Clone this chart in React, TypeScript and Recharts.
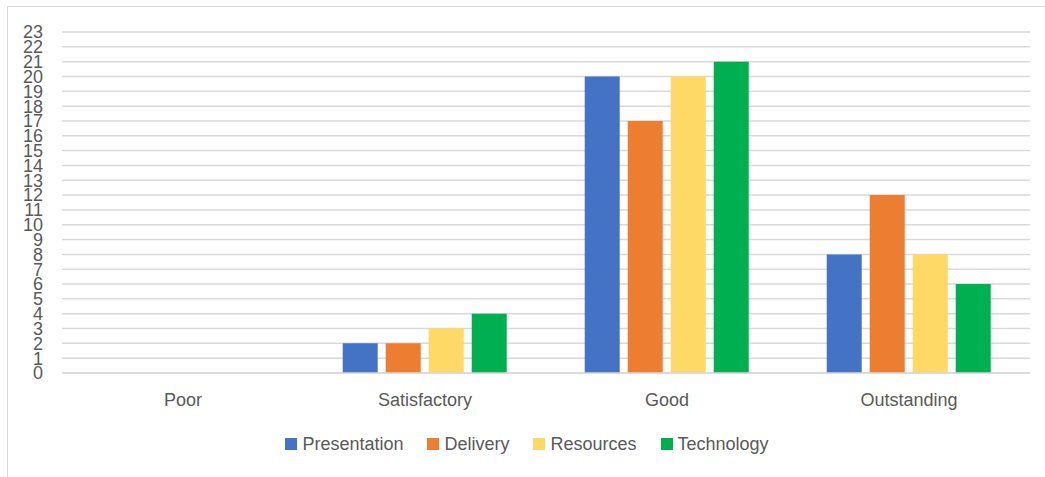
import { BarChart, Bar, XAxis, YAxis, CartesianGrid, Legend } from "recharts";

const categories = ["Poor", "Satisfactory", "Good", "Outstanding"];
const presentation = [0, 2, 20, 8];
const delivery = [0, 2, 17, 12];
const resources = [0, 3, 20, 8];
const technology = [0, 4, 21, 6];
const yTicks = Array.from({ length: 24 }, (_, i) => i);

const series = [
  { key: "Presentation", color: "#4472C4" },
  { key: "Delivery", color: "#ED7D31" },
  { key: "Resources", color: "#FFD966" },
  { key: "Technology", color: "#00B050" },
];

const data = categories.map((name, i) => ({
  name,
  Presentation: presentation[i],
  Delivery: delivery[i],
  Resources: resources[i],
  Technology: technology[i],
}));

const font = "'Liberation Sans', Arial, sans-serif";
const textColor = "#595959";

function LegendContent() {
  return (
    <div
      style={{
        display: "flex",
        justifyContent: "center",
        alignItems: "center",
        height: 24,
        paddingLeft: 48,
        fontFamily: font,
        fontSize: 18,
        color: textColor,
      }}
    >
      {series.map((s) => (
        <div key={s.key} style={{ display: "flex", alignItems: "center", marginRight: 24 }}>
          <span style={{ width: 12, height: 12, background: s.color, marginRight: 5, display: "inline-block" }} />
          <span>{s.key}</span>
        </div>
      ))}
    </div>
  );
}

export default function App() {
  return (
    <div style={{ position: "absolute", left: 0, top: 0, width: 1045, height: 477, background: "#fff" }}>
      <div
        style={{
          position: "absolute",
          left: 7,
          top: 6,
          width: 1038,
          height: 471,
          borderLeft: "1px solid #d9d9d9",
          borderTop: "1px solid #d9d9d9",
        }}
      />
      <div style={{ position: "absolute", left: 0, top: 0 }}>
        <BarChart
          width={1045}
          height={477}
          data={data}
          margin={{ top: 32, right: 15, left: 0, bottom: 21 }}
          barCategoryGap="16%"
          barGap={8}
        >
          <CartesianGrid vertical={false} stroke="#d9d9d9" strokeWidth={1.5} />
          <XAxis
            dataKey="name"
            height={59}
            tickLine={false}
            axisLine={{ stroke: "#d9d9d9", strokeWidth: 1.5 }}
            tickMargin={14}
            tick={{ fontSize: 18, fill: textColor, fontFamily: font }}
          />
          <YAxis
            width={62}
            domain={[0, 23]}
            ticks={yTicks}
            interval={0}
            tickLine={false}
            axisLine={false}
            tickMargin={13}
            tick={{ fontSize: 18, fill: textColor, fontFamily: font }}
          />
          <Legend verticalAlign="bottom" content={<LegendContent />} />
          {series.map((s) => (
            <Bar key={s.key} dataKey={s.key} fill={s.color} isAnimationActive={false} />
          ))}
        </BarChart>
      </div>
    </div>
  );
}
